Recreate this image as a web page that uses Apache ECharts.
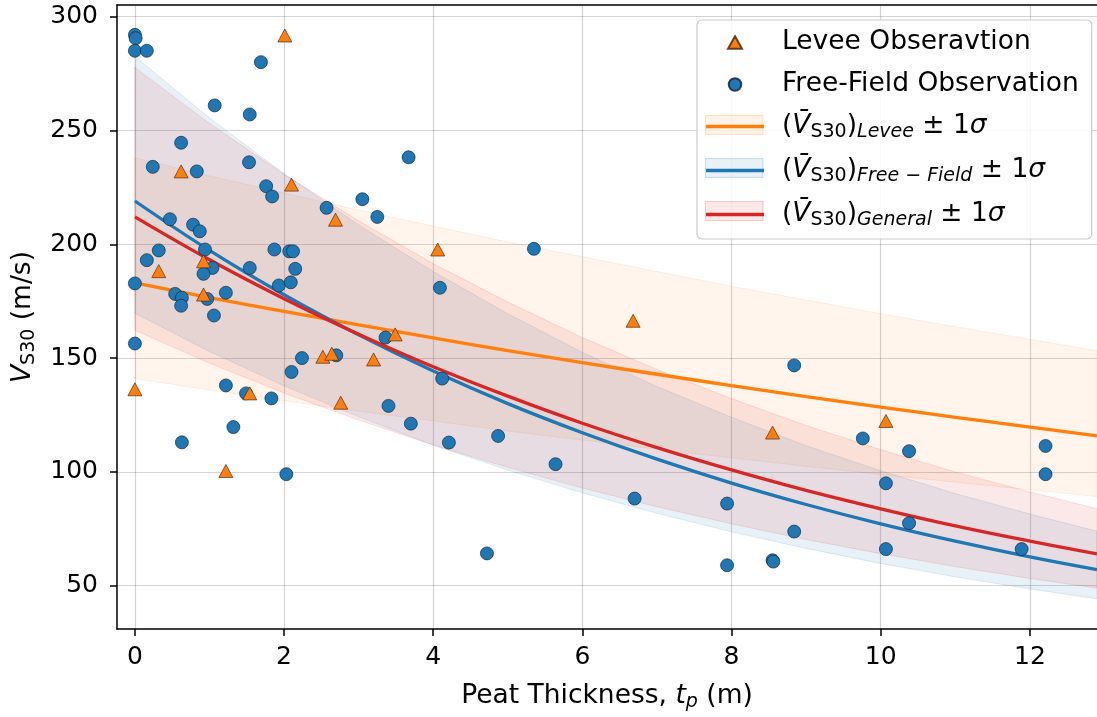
<!DOCTYPE html>
<html>
<head>
<meta charset="utf-8">
<script src="https://cdn.jsdelivr.net/npm/echarts@6/dist/echarts.min.js"></script>
<style>html,body{margin:0;padding:0;background:#fff}#c{width:1097px;height:717px}</style>
</head>
<body>
<div id="c"></div>
<script>
// ---- Data ----
const leveeObs = [[2.01,291.7],[0.62,232],[2.10,226.2],[2.69,210.8],[4.06,197.7],[0.32,188.2],[0.92,192.5],[0.92,177.9],[0.00,136.3],[1.54,134.5],[1.22,100.4],[2.52,150.6],[2.64,151.9],[3.20,149.4],[2.76,130.4],[3.49,160.4],[6.68,166.4],[8.55,117.3],[10.07,122.4]];
const freeFieldObs = [[0.00,292],[0.01,290.5],[0.00,285],[0.16,285],[0.62,244.6],[0.24,234],[0.83,232],[1.07,261],[1.54,257],[1.69,280],[1.53,236],[1.76,225.5],[1.84,221],[2.57,216],[3.05,219.8],[3.25,212],[3.67,238.2],[0.47,211],[0.78,208.6],[0.87,205.7],[0.94,197.7],[0.32,197.3],[0.16,193],[1.04,189.6],[0.92,187],[0.00,182.8],[0.54,178.2],[0.63,176.5],[0.62,173],[0.97,176],[1.22,178.7],[1.06,168.7],[1.54,189.6],[1.87,197.7],[2.07,196.9],[2.12,196.9],[2.15,189.2],[1.93,181.9],[2.09,183.3],[2.24,150],[2.10,143.9],[0.00,156.4],[1.22,138],[1.49,134.5],[1.83,132.3],[1.32,119.7],[0.63,113],[2.03,99],[2.70,151.2],[3.36,159],[4.12,141],[3.40,129],[3.70,121.2],[4.21,112.9],[4.87,115.8],[4.09,180.9],[5.35,198],[4.72,64.2],[5.64,103.4],[6.70,88.3],[7.94,86.1],[7.94,59.0],[8.55,61.2],[8.56,60.6],[8.84,146.8],[8.84,73.8],[9.76,114.7],[10.38,109.1],[10.07,95],[10.38,77.5],[10.07,66.1],[11.89,66.1],[12.21,111.4],[12.21,99]];

const curveX = [0,1,2,3,4,5,6,7,8,9,10,11,12,12.9];
const leveeMean = [183,176.6,170.5,164.6,158.9,153.3,148.0,142.9,137.9,133.1,128.5,124.0,119.7,115.8];
const leveeUpper = [238,230,222.5,215,208,201,194.5,188,181.5,175.5,169.5,163.8,158.2,153.2];
const leveeLower = [141,136,131.3,126.7,122.4,118,114,110,106.2,102.5,98.9,95.5,92.2,89.2];
const ffMean = [219,197.3,177.8,160.2,144.3,130.0,117.2,105.6,95.1,85.7,77.2,69.6,62.7,57.1];
const ffUpper = [282.5,255.5,231,208.5,188,169.5,152.5,137.5,124,111.5,100.5,90.5,81.5,74];
const ffLower = [169.7,152.9,137.8,124.2,111.8,100.8,90.8,81.8,73.7,66.4,59.8,53.9,48.6,44.3];
const genMean = [212,193.2,176.1,160.5,146.2,133.3,121.4,110.7,100.9,91.9,83.8,76.3,69.6,64.0];
const genUpper = [277.7,253.1,230.7,210.3,191.5,174.6,159.0,145.0,132.2,120.4,109.8,100.0,91.2,83.8];
const genLower = [162.2,147.8,134.7,122.8,111.8,102.0,92.9,84.7,77.2,70.3,64.1,58.4,53.2,49.0];

const xTicks = [0,2,4,6,8,10,12];
const yTicks = [50,100,150,200,250,300];

// ---- Chart ----
const FONT = 'DejaVu Sans';
const C_OR = '#ff7f0e', C_BL = '#1f77b4', C_RD = '#d62728';
const FS = 26.5, FSUB = 19;

function band(lo, hi, fill, stroke) {
  return function (params, api) {
    if (params.dataIndex !== 0) return null;
    const top = curveX.map((x, i) => api.coord([x, hi[i]]));
    const bot = curveX.map((x, i) => api.coord([x, lo[i]])).reverse();
    return { type: 'polygon', shape: { points: top.concat(bot) },
             style: { fill: fill, stroke: stroke, lineWidth: 1 } };
  };
}
function bandData(lo, hi) { return curveX.map((x, i) => [x, lo[i], hi[i]]); }
function lineData(v) { return curveX.map((x, i) => [x, v[i]]); }

const subStyle = { fontSize: FSUB, fontFamily: FONT, color: '#000', padding: [12, 0, 0, 0] };
const legendRich = {
  gap: { width: 13 },
  p: { fontSize: FS, fontFamily: FONT, color: '#000' },
  n: { fontSize: FS, fontFamily: FONT, color: '#000' },
  v: { fontSize: FS, fontFamily: FONT, fontStyle: 'italic', color: '#000' },
  sub: Object.assign({}, subStyle),
  subi: Object.assign({}, subStyle, { fontStyle: 'italic' }),
  s: { fontSize: FS, fontFamily: FONT, fontStyle: 'italic', color: '#000' }
};
const legendLabels = {
  'Levee Obseravtion': '{gap|}{p|Levee Obseravtion}',
  'Free-Field Observation': '{gap|}{p|Free-Field Observation}',
  'LeveeMean': '{gap|}{n|(}{v|V\u0304}{sub|S30}{n|)}{subi|Levee}{n| \u00b1 1}{s|\u03c3}',
  'FreeFieldMean': '{gap|}{n|(}{v|V\u0304}{sub|S30}{n|)}{subi|Free \u2212 Field}{n| \u00b1 1}{s|\u03c3}',
  'GeneralMean': '{gap|}{n|(}{v|V\u0304}{sub|S30}{n|)}{subi|General}{n| \u00b1 1}{s|\u03c3}'
};
const TRI = 'path://M7,0 L14,12.5 L0,12.5 Z';
const CIRC = 'path://M0,6.5 A6.5,6.5 0 1,1 13,6.5 A6.5,6.5 0 1,1 0,6.5 Z';
const BAR = 'path://M0,0 H58 V3.3 H0 Z';

// pale band swatches behind legend line icons
const swatchRows = [125, 168, 211];
const swatchCols = [['rgba(255,127,14,0.10)','rgba(255,127,14,0.22)'],['rgba(31,119,180,0.10)','rgba(31,119,180,0.22)'],['rgba(214,39,40,0.10)','rgba(214,39,40,0.22)']];

const chart = echarts.init(document.getElementById('c'), null, { renderer: 'canvas' });
chart.setOption({
  animation: false,
  backgroundColor: '#fff',
  textStyle: { fontFamily: FONT },
  grid: { left: 117, right: 0, top: 5, bottom: 87, containLabel: false },
  xAxis: [{
    type: 'value', min: -0.24, max: 12.9,
    name: 'Peat Thickness, {i|t}{sub|p} (m)', nameLocation: 'middle', nameGap: 52,
    nameTextStyle: { fontSize: FS, fontFamily: FONT, color: '#000',
      rich: { i: { fontSize: FS, fontFamily: FONT, fontStyle: 'italic', color: '#000' },
              sub: { fontSize: FSUB, fontFamily: FONT, fontStyle: 'italic', color: '#000', padding: [12, 0, 0, 0] } } },
    axisLine: { show: true, onZero: false, lineStyle: { color: '#000', width: 1.5 } },
    axisTick: { show: true, length: 7, lineStyle: { color: '#000', width: 1.5 }, customValues: xTicks },
    axisLabel: { fontSize: 25, color: '#000', margin: 16, customValues: xTicks, formatter: v => String(v) },
    splitLine: { show: true, lineStyle: { color: 'rgba(0,0,0,0.17)', width: 1.2 } }
  }, {
    type: 'value', min: -0.24, max: 12.9, position: 'top',
    axisLine: { show: true, onZero: false, lineStyle: { color: '#000', width: 1.5 } },
    axisTick: { show: false }, axisLabel: { show: false }, splitLine: { show: false }
  }],
  yAxis: {
    type: 'value', min: 31, max: 305.1,
    name: '{i|V}{sub|S30} (m/s)', nameLocation: 'middle', nameGap: 78,
    nameTextStyle: { fontSize: FS, fontFamily: FONT, color: '#000',
      rich: { i: { fontSize: FS, fontFamily: FONT, fontStyle: 'italic', color: '#000' },
              sub: { fontSize: FSUB, fontFamily: FONT, color: '#000', padding: [12, 0, 0, 0] } } },
    axisLine: { show: true, onZero: false, lineStyle: { color: '#000', width: 1.5 } },
    axisTick: { show: true, length: 7, lineStyle: { color: '#000', width: 1.5 }, customValues: yTicks },
    axisLabel: { fontSize: 25, color: '#000', margin: 19, customValues: yTicks, formatter: v => String(v) },
    splitLine: { show: true, lineStyle: { color: 'rgba(0,0,0,0.17)', width: 1.2 } }
  },
  legend: {
    left: 697, top: 20, orient: 'vertical', itemGap: 15,
    itemWidth: 58, itemHeight: 12.5, symbolKeepAspect: true,
    padding: [9, 13, 9, 9],
    backgroundColor: 'rgba(255,255,255,0.85)', borderColor: '#cccccc', borderWidth: 1.2, borderRadius: 5,
    data: [
      { name: 'Levee Obseravtion', icon: TRI },
      { name: 'Free-Field Observation', icon: CIRC },
      { name: 'LeveeMean', icon: BAR, itemStyle: { color: C_OR, borderWidth: 0 } },
      { name: 'FreeFieldMean', icon: BAR, itemStyle: { color: C_BL, borderWidth: 0 } },
      { name: 'GeneralMean', icon: BAR, itemStyle: { color: C_RD, borderWidth: 0 } }
    ],
    formatter: name => legendLabels[name],
    textStyle: { fontSize: FS, fontFamily: FONT, color: '#000', rich: legendRich }
  },
  graphic: swatchRows.map((cy, i) => ({
    type: 'rect', z: 10, silent: true,
    shape: { x: 705.5, y: cy - 9.5, width: 57.5, height: 19 },
    style: { fill: swatchCols[i][0], stroke: swatchCols[i][1], lineWidth: 1 }
  })),
  series: [
    { type: 'custom', name: 'leveeBand', renderItem: band(leveeLower, leveeUpper, 'rgba(255,127,14,0.08)', 'rgba(255,127,14,0.12)'),
      data: bandData(leveeLower, leveeUpper), encode: { x: 0, y: [1, 2] }, z: 1, silent: true, clip: true },
    { type: 'custom', name: 'ffBand', renderItem: band(ffLower, ffUpper, 'rgba(31,119,180,0.10)', 'rgba(31,119,180,0.13)'),
      data: bandData(ffLower, ffUpper), encode: { x: 0, y: [1, 2] }, z: 1, silent: true, clip: true },
    { type: 'custom', name: 'genBand', renderItem: band(genLower, genUpper, 'rgba(214,39,40,0.10)', 'rgba(214,39,40,0.13)'),
      data: bandData(genLower, genUpper), encode: { x: 0, y: [1, 2] }, z: 1, silent: true, clip: true },
    { type: 'line', name: 'LeveeMean', data: lineData(leveeMean), symbol: 'none', smooth: 0.4, z: 3,
      color: C_OR, lineStyle: { color: C_OR, width: 3.3 } },
    { type: 'line', name: 'FreeFieldMean', data: lineData(ffMean), symbol: 'none', smooth: 0.4, z: 3,
      color: C_BL, lineStyle: { color: C_BL, width: 3.3 } },
    { type: 'line', name: 'GeneralMean', data: lineData(genMean), symbol: 'none', smooth: 0.4, z: 3,
      color: C_RD, lineStyle: { color: C_RD, width: 3.3 } },
    { type: 'scatter', name: 'Free-Field Observation', data: freeFieldObs, symbol: 'circle', symbolSize: 13, z: 4,
      itemStyle: { color: C_BL, borderColor: 'rgba(20,40,60,0.85)', borderWidth: 0.8, opacity: 1 } },
    { type: 'scatter', name: 'Levee Obseravtion', data: leveeObs, symbol: 'triangle', symbolSize: [14, 13], z: 5,
      itemStyle: { color: C_OR, borderColor: 'rgba(80,40,10,0.85)', borderWidth: 0.8, opacity: 1 } }
  ]
});
</script>
</body>
</html>
